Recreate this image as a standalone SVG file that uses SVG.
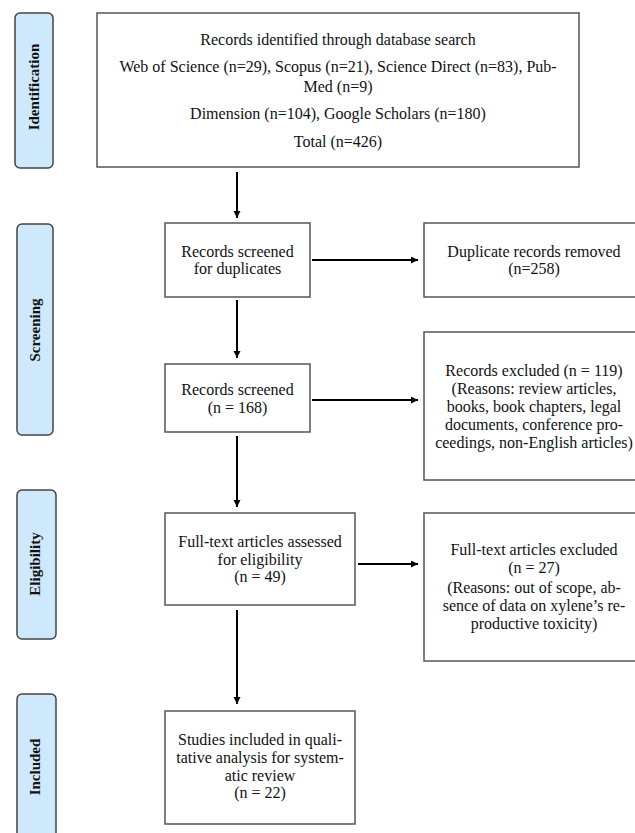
<svg xmlns="http://www.w3.org/2000/svg" width="635" height="833" viewBox="0 0 635 833">
<style>
.box{fill:#fff;stroke:#555;stroke-width:1.5}
.phase{fill:#cde9fb;stroke:#444;stroke-width:1.5}
.t{font-family:"Liberation Serif","Times New Roman",serif;font-size:16px;fill:#111;text-anchor:middle}
.p{font-family:"Liberation Serif","Times New Roman",serif;font-size:15px;font-weight:bold;fill:#111;text-anchor:middle}
.c{stroke:#000;stroke-width:2;fill:none;marker-end:url(#ah)}
</style>
<defs>
<marker id="ah" markerUnits="userSpaceOnUse" markerWidth="8" markerHeight="8" refX="7" refY="3.5" orient="auto">
<path d="M0,0 L7,3.5 L0,7 z" fill="#000"/>
</marker>
</defs>
<rect width="635" height="833" fill="#fff"/>
<g id="phase-identification"><rect class="phase" x="15" y="13" width="38" height="155" rx="5"/><text class="p" transform="translate(39,87) rotate(-90)">Identification</text></g>
<g id="phase-screening"><rect class="phase" x="17" y="224" width="36" height="211" rx="5"/><text class="p" transform="translate(40,330) rotate(-90)">Screening</text></g>
<g id="phase-eligibility"><rect class="phase" x="17" y="490" width="39" height="149" rx="5"/><text class="p" transform="translate(40,564) rotate(-90)">Eligibility</text></g>
<g id="phase-included"><rect class="phase" x="17" y="694" width="39" height="150" rx="5"/><text class="p" transform="translate(40,767) rotate(-90)">Included</text></g>

<g id="identified"><rect class="box" x="97" y="13" width="482" height="154"/>
<text class="t" x="338" y="45">Records identified through database search</text>
<text class="t" x="338" y="72">Web of Science (n=29), Scopus (n=21), Science Direct (n=83), Pub-</text>
<text class="t" x="338" y="92">Med (n=9)</text>
<text class="t" x="338" y="119">Dimension (n=104), Google Scholars (n=180)</text>
<text class="t" x="338" y="147">Total (n=426)</text></g>

<g id="screened-dup"><rect class="box" x="165" y="223" width="145" height="74"/>
<text class="t" x="237.5" y="257">Records screened</text>
<text class="t" x="237.5" y="274">for duplicates</text></g>

<g id="dup-removed"><rect class="box" x="424" y="223" width="220" height="74"/>
<text class="t" x="534" y="257">Duplicate records removed</text>
<text class="t" x="534" y="274">(n=258)</text></g>

<g id="screened"><rect class="box" x="165" y="364" width="145" height="68"/>
<text class="t" x="237.5" y="395">Records screened</text>
<text class="t" x="237.5" y="413">(n = 168)</text></g>

<g id="excluded"><rect class="box" x="424" y="332" width="220" height="148"/>
<text class="t" x="534" y="376">Records excluded (n = 119)</text>
<text class="t" x="534" y="394">(Reasons: review articles,</text>
<text class="t" x="534" y="412">books, book chapters, legal</text>
<text class="t" x="534" y="430">documents, conference pro-</text>
<text class="t" x="534" y="448">ceedings, non-English articles)</text></g>

<g id="fulltext"><rect class="box" x="165" y="513" width="190" height="92"/>
<text class="t" x="260" y="547">Full-text articles assessed</text>
<text class="t" x="260" y="565">for eligibility</text>
<text class="t" x="260" y="582">(n = 49)</text></g>

<g id="fulltext-excluded"><rect class="box" x="424" y="513" width="220" height="148"/>
<text class="t" x="534" y="555">Full-text articles excluded</text>
<text class="t" x="534" y="573">(n = 27)</text>
<text class="t" x="534" y="593">(Reasons: out of scope, ab-</text>
<text class="t" x="534" y="611">sence of data on xylene’s re-</text>
<text class="t" x="534" y="629">productive toxicity)</text></g>

<g id="included"><rect class="box" x="165" y="711" width="190" height="113"/>
<text class="t" x="260" y="745">Studies included in quali-</text>
<text class="t" x="260" y="763">tative analysis for system-</text>
<text class="t" x="260" y="781">atic review</text>
<text class="t" x="260" y="798">(n = 22)</text></g>

<g id="connectors">
<line class="c" x1="237" y1="172" x2="237" y2="218"/>
<line class="c" x1="237" y1="300" x2="237" y2="358"/>
<line class="c" x1="237" y1="436" x2="237" y2="507"/>
<line class="c" x1="237" y1="610" x2="237" y2="704"/>
<line class="c" x1="312" y1="260" x2="418" y2="260"/>
<line class="c" x1="312" y1="400" x2="418" y2="400"/>
<line class="c" x1="358" y1="564" x2="418" y2="564"/>
</g>
</svg>
